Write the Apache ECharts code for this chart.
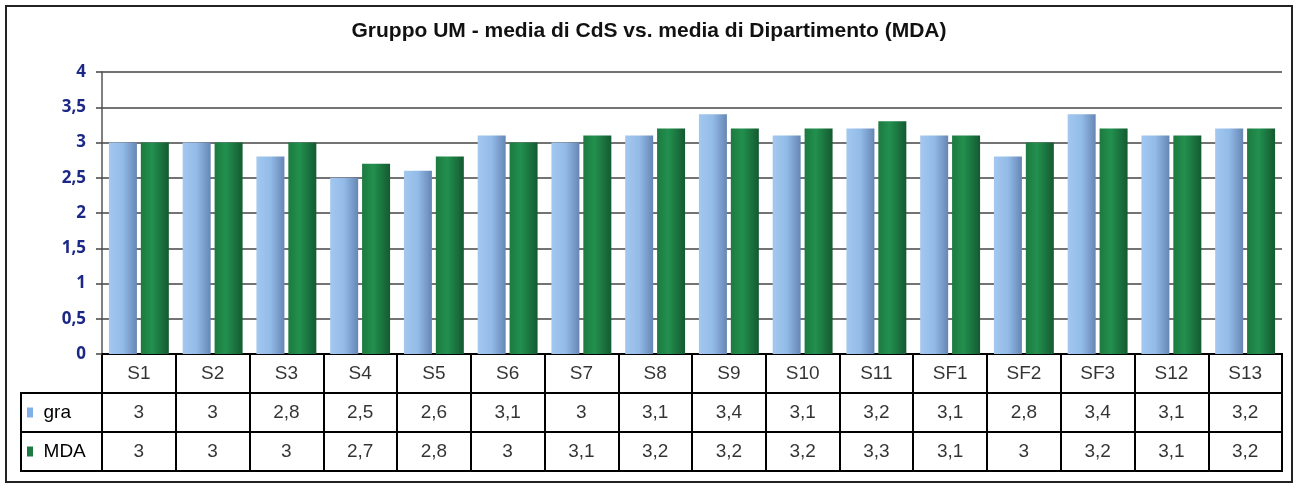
<!DOCTYPE html>
<html>
<head>
<meta charset="utf-8">
<script src="https://cdn.jsdelivr.net/npm/echarts@6/dist/echarts.min.js"></script>
<style>
html,body{margin:0;padding:0;background:#fff;}
#c{width:1298px;height:492px;}
</style>
</head>
<body>
<div id="c"></div>
<script>
const categories = ['S1','S2','S3','S4','S5','S6','S7','S8','S9','S10','S11','SF1','SF2','SF3','S12','S13'];
const graValues = [3,3,2.8,2.5,2.6,3.1,3,3.1,3.4,3.1,3.2,3.1,2.8,3.4,3.1,3.2];
const mdaValues = [3,3,3,2.7,2.8,3,3.1,3.2,3.2,3.2,3.3,3.1,3,3.2,3.1,3.2];
const seriesNames = ['gra','MDA'];
const titleText = 'Gruppo UM - media di CdS vs. media di Dipartimento (MDA)';

const fmt = v => String(v).replace('.', ',');

const tableData = [];
categories.forEach((c, i) => {
  tableData.push([i, 0, c]);
  tableData.push([i, 1, fmt(graValues[i])]);
  tableData.push([i, 2, fmt(mdaValues[i])]);
});

const graGrad = new echarts.graphic.LinearGradient(0,0,1,0,[
  {offset:0,color:'#a3c8f0'},{offset:0.5,color:'#93bbe8'},{offset:1,color:'#6686b4'}]);
const mdaGrad = new echarts.graphic.LinearGradient(0,0,1,0,[
  {offset:0,color:'#1d7a40'},{offset:0.4,color:'#22904e'},{offset:1,color:'#145a31'}]);

const chart = echarts.init(document.getElementById('c'));
chart.setOption({
  animation:false,
  backgroundColor:'#fff',
  title:{text:titleText,left:'center',top:16,
    textStyle:{fontFamily:'Liberation Sans, Arial',fontWeight:'bold',fontSize:21,color:'#111'}},
  graphic:[{type:'rect',shape:{x:6,y:6,width:1286,height:476},style:{fill:'none',stroke:'#222',lineWidth:2},silent:true,z:-1}],
  grid:[
    {left:102,right:16,top:72,height:282},
    {left:102,right:16,top:354,height:117,show:true,borderColor:'#000',borderWidth:2,backgroundColor:'transparent'},
    {left:21,width:81,top:393,height:78,show:true,borderColor:'#000',borderWidth:2,backgroundColor:'transparent'}
  ],
  xAxis:[
    {type:'category',data:categories,gridIndex:0,axisLabel:{show:false},axisTick:{show:false},
      axisLine:{show:true,lineStyle:{color:'#000',width:2}}},
    {type:'category',data:categories,gridIndex:1,axisLabel:{show:false},axisTick:{show:false},axisLine:{show:false},
      splitLine:{show:true,interval:0,lineStyle:{color:'#000',width:2}}},
    {type:'category',data:['x'],gridIndex:2,show:false}
  ],
  yAxis:[
    {type:'value',gridIndex:0,min:0,max:4,interval:0.5,
      axisLabel:{formatter:v=>fmt(v),color:'#1c2886',fontFamily:'Open Sans, Lato, sans-serif',fontWeight:'bold',fontSize:17,margin:16},
      axisLine:{show:true,lineStyle:{color:'#555',width:1.5}},
      axisTick:{show:true,length:6,lineStyle:{color:'#444',width:1.5}},
      splitLine:{show:true,lineStyle:{color:'#444',width:1.5}}},
    {type:'category',data:['c','g','m'],gridIndex:1,inverse:true,axisLabel:{show:false},axisTick:{show:false},axisLine:{show:false},
      splitLine:{show:true,interval:0,lineStyle:{color:'#000',width:2}}},
    {type:'category',data:seriesNames,gridIndex:2,inverse:true,axisTick:{show:false},axisLine:{show:false},
      splitLine:{show:true,interval:0,lineStyle:{color:'#000',width:2}},
      axisLabel:{inside:true,margin:6,
        formatter:v=>'{'+v+'|}  '+v,
        fontFamily:'Liberation Sans, Arial',fontSize:19,color:'#000',
        rich:{gra:{backgroundColor:'#7fb0e6',width:6,height:10},MDA:{backgroundColor:'#1c7a42',width:6,height:10}}}}
  ],
  series:[
    {name:seriesNames[0],type:'bar',data:graValues,xAxisIndex:0,yAxisIndex:0,barWidth:28,barGap:'14%',
      itemStyle:{color:graGrad}},
    {name:seriesNames[1],type:'bar',data:mdaValues,xAxisIndex:0,yAxisIndex:0,barWidth:28,barGap:'14%',
      itemStyle:{color:mdaGrad}},
    {type:'scatter',xAxisIndex:1,yAxisIndex:1,data:tableData,symbolSize:1,itemStyle:{color:'transparent'},
      label:{show:true,position:'inside',formatter:p=>p.data[2],fontFamily:'Liberation Sans, Arial',fontSize:19,color:'#000'}}
  ]
});
</script>
</body>
</html>
